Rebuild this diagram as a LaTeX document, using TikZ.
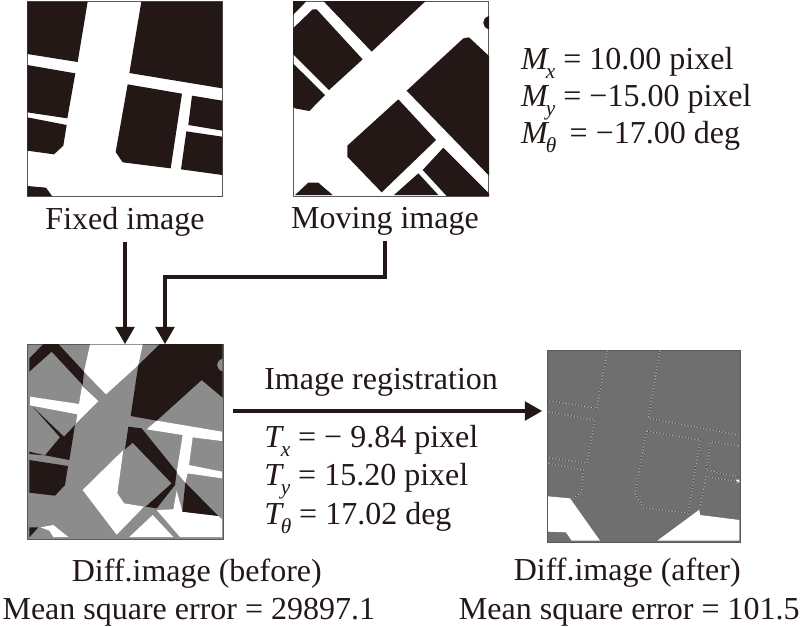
\documentclass[tikz,border=0pt]{standalone}
\usepackage{fontspec}
\usepackage{xcolor}
\usepackage{tikz}
\usetikzlibrary{arrows.meta,positioning}
\setmainfont{Liberation Serif}
\definecolor{inkblack}{HTML}{231815}
\definecolor{diffgray}{HTML}{8C8C8C}
\definecolor{aftergray}{HTML}{6F6F6F}
\newcommand{\subvar}[2]{\textit{#1}\kern-0.1em\raisebox{-0.28em}{\fontsize{16}{16}\selectfont\textit{#2}}}

\begin{document}
\begin{tikzpicture}[
    x=0.75pt, y=-0.75pt,
    frame/.style={rectangle, draw=black!65, fill=#1, minimum size=146.6pt, inner sep=0pt, outer sep=0pt, line width=0.8pt},
    frame/.default=white,
    lbl/.style={font=\fontsize{24}{29}\selectfont, align=center, inner sep=0pt, text=inkblack},
    vals/.style={font=\fontsize{24}{#1}\selectfont, align=left, inner sep=0pt, text=inkblack},
    arrow/.style={-{Triangle[length=13pt,width=14pt]}, line width=2.6pt, color=inkblack},
    crop/.style={x=0.25pt, y=-0.25pt},
    edgeline/.style={line width=0.6pt, dash pattern=on 1.2pt off 1.2pt}
]
    \useasboundingbox (0,0) rectangle (800,626);

    \node[frame] (fixed) at (125,99) {};
    \node[frame, right=52.9pt of fixed] (moving) {};
    \node[frame=diffgray, below=110.6pt of fixed, xshift=0.4pt] (before) {};
    \node[frame=aftergray, right=243.2pt of before, yshift=-3.4pt, minimum size=144.6pt] (after) {};

    \begin{scope}[crop]
        \fill[inkblack] (82,5) -- (263,5) -- (233,186) -- (82,162) -- cycle
            (424,5) -- (667,5) -- (667,265) -- (388,219) -- cycle
            (82,195) -- (226,220) -- (202,355) -- (82,337) -- cycle
            (82,352) -- (200,375) -- (190,437) -- (162,463) -- (82,452) -- cycle
            (383,253) -- (546,281) -- (512,505) -- (368,487) -- (347,456) -- cycle
            (576,287) -- (667,302) -- (667,392) -- (565,375) -- cycle
            (559,394) -- (667,410) -- (667,525) -- (543,508) -- cycle
            (82,558) -- (138,563) -- (156,588) -- (82,588) -- cycle;
    \end{scope}

    \begin{scope}[shift={(270,0)}, crop]
        \fill[inkblack] (69,3) -- (110,3) -- (69,45) -- cycle
            (160,3) -- (467,3) -- (305,155) -- cycle
            (69,85) -- (128,28) -- (140,28) -- (278,178) -- (177,270) -- (69,162) -- cycle
            (69,190) -- (165,285) -- (118,333) -- (75,325) -- (69,320) -- cycle
            (410,272) -- (580,115) -- (597,112) -- (657,168) -- (657,527) -- cycle
            (385,298) -- (498,420) -- (335,577) -- (232,470) -- (232,437) -- cycle
            (520,443) -- (657,580) -- (657,588) -- (530,588) -- (458,510) -- cycle
            (445,520) -- (505,585) -- (372,585) -- cycle
            (75,585) -- (115,548) -- (145,548) -- (188,585) -- cycle
            (657,48) .. controls (634,54) and (634,82) .. (657,88) -- cycle;
    \end{scope}

    \begin{scope}[shift={(0,330)}, crop]
        \fill[white] (270,44) -- (428,44) -- (415,105) -- (318,193) -- (252,125) -- cycle
            (90,200) -- (237,222) -- (246,168) -- (295,213) -- (228,280) -- (232,253) -- (90,226) -- cycle
            (440,298) -- (470,272) -- (666,305) -- (666,333) -- (578,322) -- (567,405) -- (666,425) -- (666,445) -- (563,430) -- (556,458) -- (530,427) -- (548,315) -- cycle
            (248,480) -- (370,360) -- (352,490) -- (372,520) -- (432,530) -- (350,614) -- cycle
            (530,482) -- (547,545) -- (655,558) -- (666,568) -- (666,621) -- (540,621) -- (470,540) -- (520,538) -- cycle
            (388,621) -- (458,555) -- (520,621) -- cycle
            (122,592) -- (160,585) -- (205,621) -- (160,621) -- (148,602) -- cycle;
        \fill[inkblack] (480,42) -- (668,42) -- (668,203) -- (605,150) -- (470,272) -- (392,258) -- (415,105) -- cycle
            (88,85) -- (130,42) -- (175,42) -- (252,125) -- (248,165) -- (155,65) -- (88,125) -- cycle
            (100,232) -- (192,320) -- (225,285) -- (208,390) -- (135,376) -- (180,322) -- cycle
            (88,365) -- (135,376) -- (88,372) -- cycle
            (88,390) -- (204,408) -- (195,465) -- (165,497) -- (88,488) -- cycle
            (385,290) -- (425,295) -- (530,425) -- (525,465) -- (470,535) -- (437,530) -- (515,460) -- (398,338) -- (375,358) -- cycle
            (556,458) -- (655,558) -- (547,545) -- cycle
            (88,592) -- (115,592) -- (88,622) -- cycle;
        \fill[diffgray] (668,86) .. controls (646,92) and (646,118) .. (668,124) -- cycle;
    \end{scope}

    \begin{scope}[shift={(530,335)}, crop]
        \fill[white] (54,484) -- (120,490) -- (210,617) -- (125,617) -- (108,592) -- (54,590) -- cycle
            (382,617) -- (508,524) -- (510,540) -- (628,555) -- (628,617) -- cycle
            (618,434) -- (628,434) -- (628,442) -- (618,442) -- cycle;
        \foreach \tone/\phase in {black!25/0pt, black!72/1.2pt} {
            \begin{scope}[edgeline, color=\tone, dash phase=\phase]
                \draw (232,45) -- (200,220) -- (55,197);
                \draw (390,45) -- (355,250) -- (625,300);
                \draw (55,230) -- (195,255) -- (170,385) -- (55,368);
                \draw (55,385) -- (160,405) -- (155,470) -- (130,490);
                \draw (350,288) -- (510,315) -- (475,535) -- (340,518) -- (315,475) -- cycle;
                \draw (625,332) -- (542,320) -- (528,405) -- (625,425);
                \draw (625,440) -- (528,425) -- (510,515);
            \end{scope}
        }
    \end{scope}

    \node[lbl, below=8pt of fixed] (fixedlabel) {Fixed image};
    \node[lbl, below=8pt of moving, xshift=-4.5pt] (movinglabel) {Moving image};
    \node[lbl, below=14pt of before, xshift=47.5pt] (beforelabel) {\hspace*{12pt}Diff.image (before)\\Mean square error = 29897.1};
    \node[lbl, below=11pt of after, xshift=-11pt] (afterlabel) {\hspace*{-3pt}Diff.image (after)\\Mean square error = 101.5};

    \node[vals=27.8, right=24pt of moving.north east, yshift=-74pt] (mvalues) {\subvar{M}{x} = 10.00 pixel\\\subvar{M}{y} = −15.00 pixel\\\subvar{M}{θ}\, = −17.00 deg};
    \node[lbl, anchor=base west] (regtitle) at (264,389) {Image registration};
    \node[vals=28.9, below=21.5pt of regtitle.south west, anchor=north west] (tvalues) {\subvar{T}{x} = − 9.84 pixel\\\subvar{T}{y} = 15.20 pixel\\\subvar{T}{θ} = 17.02 deg};

    \draw[arrow] (fixedlabel.south) ++(0,5) -- (fixedlabel.south |- before.north);
    \draw[arrow] (movinglabel.south) ++(0,5) -- ++(0,36) -| ([xshift=29.6pt]before.north);
    \draw[arrow, shorten <=7.5pt, shorten >=4pt] ([yshift=23.2pt]before.east) -- ([yshift=26.6pt]after.west);
\end{tikzpicture}
\end{document}
